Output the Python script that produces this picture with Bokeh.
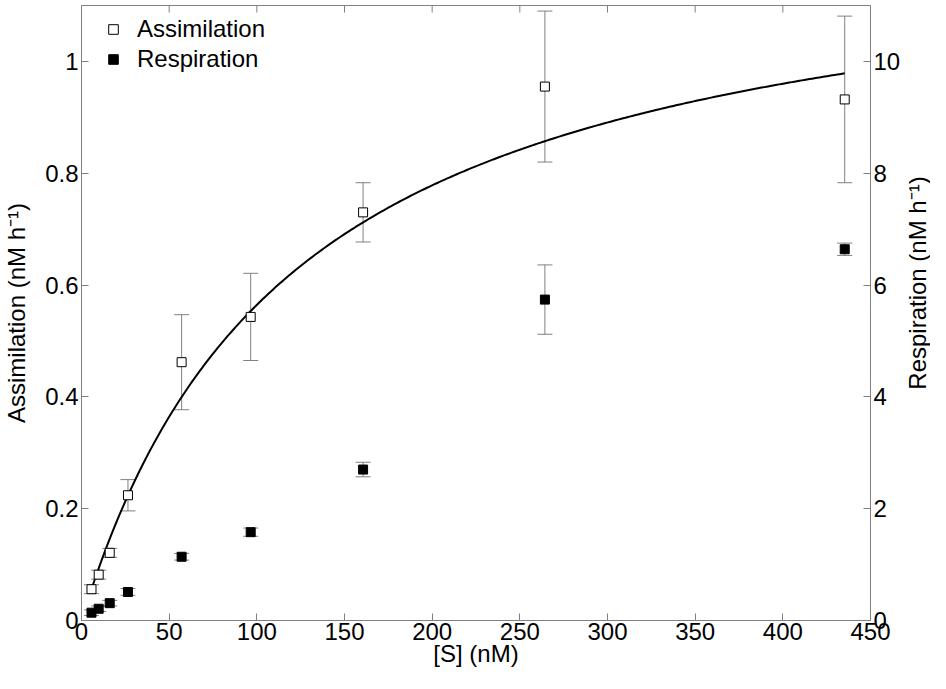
import numpy as np
from bokeh.plotting import figure
from bokeh.layouts import row
from bokeh.models import (Range1d, LinearAxis, FixedTicker, ColumnDataSource, Whisker,
                          TeeHead, Legend, LegendItem, CustomJSTickFormatter, Label)
from bokeh.embed import file_html
from bokeh.resources import INLINE

# ---- data ----
substrate = [5.7, 9.8, 16.1, 26.5, 57.1, 96.5, 160.6, 264.3, 435.3]          # [S] (nM)
assimilation = [0.056, 0.082, 0.121, 0.224, 0.462, 0.543, 0.730, 0.955, 0.932]  # nM h^-1
assimilation_err = [0.008, 0.008, 0.008, 0.028, 0.085, 0.078, 0.053, 0.135, 0.149]
respiration = [0.14, 0.21, 0.31, 0.51, 1.14, 1.58, 2.70, 5.74, 6.64]           # nM h^-1
respiration_err = [0.05, 0.05, 0.05, 0.06, 0.06, 0.074, 0.13, 0.62, 0.11]

# Michaelis-Menten fit drawn through assimilation
vmax = 1.2527
km = 121.9

x_ticks = [0, 50, 100, 150, 200, 250, 300, 350, 400, 450]
left_ticks = [0, 0.2, 0.4, 0.6, 0.8, 1.0]
right_ticks = [0, 2, 4, 6, 8, 10]
x_max = 450
y_max = 1.1
resp_max = 11

FONT = "Liberation Sans"
GRAY = "#808080"
FS = "24px"
H = 673
TOP, BOTTOM = 5, 53

p = figure(width=903, height=H, output_backend="svg", toolbar_location=None,
           x_range=Range1d(0, x_max), y_range=Range1d(0, y_max),
           min_border_left=81, min_border_right=30, min_border_top=TOP, min_border_bottom=BOTTOM)
p.extra_y_ranges = {"resp": Range1d(0, resp_max)}
p.xgrid.visible = False
p.ygrid.visible = False
p.outline_line_color = GRAY
p.outline_line_width = 1
p.background_fill_color = "white"
p.border_fill_color = "white"

fmt = CustomJSTickFormatter(code="return (Math.round(tick*10)/10).toString();")

def style_axis(ax, ticks):
    ax.ticker = FixedTicker(ticks=ticks)
    ax.axis_line_color = GRAY
    ax.major_tick_line_color = GRAY
    ax.major_tick_in = 7
    ax.major_tick_out = 0
    ax.minor_tick_line_color = None
    ax.major_label_text_font = FONT
    ax.major_label_text_font_size = FS
    ax.major_label_text_color = "black"
    ax.axis_label_text_font = FONT
    ax.axis_label_text_font_size = FS
    ax.axis_label_text_font_style = "normal"
    ax.axis_label_text_color = "black"
    ax.formatter = fmt

style_axis(p.xaxis[0], x_ticks)
p.xaxis[0].axis_label = "[S] (nM)"
p.xaxis[0].major_label_standoff = 2
p.xaxis[0].axis_label_standoff = -3

style_axis(p.yaxis[0], left_ticks)
p.yaxis[0].axis_label = "Assimilation (nM h\u207B\u00B9)"
p.yaxis[0].major_label_standoff = 3
p.yaxis[0].axis_label_standoff = 12

ra = LinearAxis(y_range_name="resp")
style_axis(ra, right_ticks)
ra.major_label_standoff = 3
p.add_layout(ra, "right")

# inward ticks on the top edge of the box
p.ray(x=x_ticks, y=[y_max] * len(x_ticks), length=7, length_units="screen",
      angle=-np.pi / 2, line_color=GRAY, line_width=1)

src_a = ColumnDataSource(dict(x=substrate, y=assimilation,
                              lo=[a - e for a, e in zip(assimilation, assimilation_err)],
                              hi=[a + e for a, e in zip(assimilation, assimilation_err)]))
src_r = ColumnDataSource(dict(x=substrate, y=respiration,
                              lo=[a - e for a, e in zip(respiration, respiration_err)],
                              hi=[a + e for a, e in zip(respiration, respiration_err)]))

def whisker(src, **kw):
    return Whisker(source=src, base="x", lower="lo", upper="hi", dimension="height",
                   line_color=GRAY, line_width=1, level="underlay",
                   upper_head=TeeHead(size=15, line_color=GRAY, line_width=1),
                   lower_head=TeeHead(size=15, line_color=GRAY, line_width=1), **kw)

p.add_layout(whisker(src_a))
p.add_layout(whisker(src_r, y_range_name="resp"))

sx = np.linspace(substrate[0], substrate[-1], 300)
p.line(sx, vmax * sx / (km + sx), line_color="black", line_width=2)

ra_r = p.scatter("x", "y", source=src_a, marker="square", size=9,
                 fill_color="white", line_color="black", line_width=1)
rr_r = p.scatter("x", "y", source=src_r, marker="square", size=9, y_range_name="resp",
                 fill_color="black", line_color="black", line_width=1)

legend = Legend(items=[LegendItem(label="Assimilation", renderers=[ra_r]),
                       LegendItem(label="Respiration", renderers=[rr_r])],
                location="top_left", margin=10, padding=0, glyph_width=44,
                glyph_height=24, label_height=24, label_standoff=2, spacing=2,
                label_text_font=FONT, label_text_font_size=FS, label_text_color="black",
                background_fill_alpha=0, border_line_alpha=0)
p.add_layout(legend)

# narrow strip carrying the right-hand axis title (reads bottom to top)
p2 = figure(width=27, height=H, output_backend="svg", toolbar_location=None,
            x_range=Range1d(0, 1), y_range=Range1d(0, y_max),
            x_axis_location=None, y_axis_location=None,
            min_border_left=0, min_border_right=0, min_border_top=TOP, min_border_bottom=BOTTOM)
p2.xgrid.visible = False
p2.ygrid.visible = False
p2.outline_line_color = None
p2.background_fill_color = "white"
p2.border_fill_color = "white"
p2.add_layout(Label(x=0.5, y=y_max / 2, y_offset=30, text="Respiration (nM h\u207B\u00B9)",
                    angle=np.pi / 2, text_align="center", text_baseline="middle",
                    text_font=FONT, text_font_size=FS, text_color="black"))

layout = row(p, p2)
open("out.html", "w").write(file_html(layout, INLINE))
